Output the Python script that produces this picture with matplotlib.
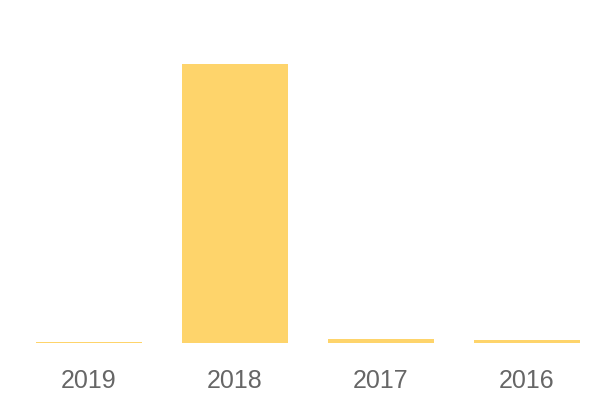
import matplotlib
matplotlib.use("Agg")
import matplotlib.pyplot as plt

categories = ["2019", "2018", "2017", "2016"]
values = [0.4, 100.0, 1.5, 0.9]

fig = plt.figure(figsize=(6, 4), dpi=100)
ax = fig.add_axes([16/600, 57/400, 584/600, 279/400])
ax.bar(range(len(categories)), values, width=0.726, color="#FED46B")
ax.set_xlim(-0.5, len(categories) - 0.5)
ax.set_ylim(0, 100)
ax.set_xticks(range(len(categories)))
ax.set_xticklabels(categories, fontsize=18, color="#666666", family=["Liberation Sans", "DejaVu Sans"])
ax.tick_params(axis="x", length=0, pad=19)
ax.set_yticks([])
for s in ax.spines.values():
    s.set_visible(False)
fig.savefig("out.png", dpi=100)
